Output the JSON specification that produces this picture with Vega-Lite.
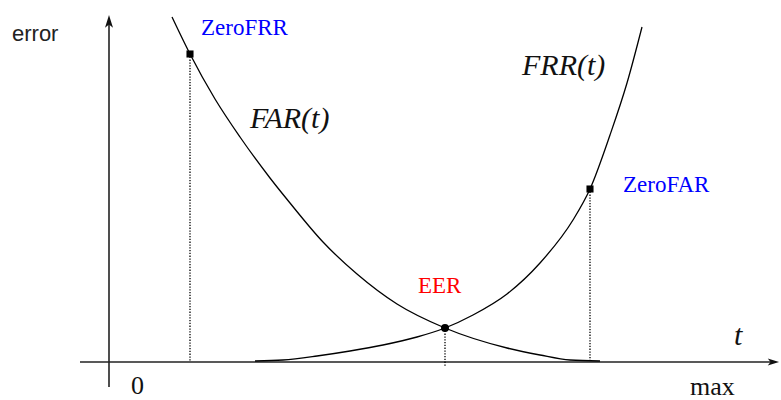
{
  "$schema": "https://vega.github.io/schema/vega-lite/v6.json",
  "width": 781,
  "height": 400,
  "autosize": {"type": "none"},
  "padding": 0,
  "background": "white",
  "config": {"view": {"stroke": null}},
  "datasets": {
    "curves": [
      {"curve": "FAR", "t": 0.63, "e": 3.45},
      {"curve": "FAR", "t": 0.81, "e": 3.08},
      {"curve": "FAR", "t": 1.06, "e": 2.63},
      {"curve": "FAR", "t": 1.31, "e": 2.25},
      {"curve": "FAR", "t": 1.61, "e": 1.84},
      {"curve": "FAR", "t": 1.81, "e": 1.59},
      {"curve": "FAR", "t": 2.14, "e": 1.20},
      {"curve": "FAR", "t": 2.48, "e": 0.88},
      {"curve": "FAR", "t": 2.88, "e": 0.58},
      {"curve": "FAR", "t": 3.36, "e": 0.34},
      {"curve": "FAR", "t": 3.98, "e": 0.14},
      {"curve": "FAR", "t": 4.31, "e": 0.07},
      {"curve": "FAR", "t": 4.61, "e": 0.02},
      {"curve": "FAR", "t": 4.91, "e": 0.01},
      {"curve": "FRR", "t": 1.46, "e": 0.01},
      {"curve": "FRR", "t": 1.74, "e": 0.02},
      {"curve": "FRR", "t": 2.08, "e": 0.06},
      {"curve": "FRR", "t": 2.41, "e": 0.11},
      {"curve": "FRR", "t": 2.74, "e": 0.17},
      {"curve": "FRR", "t": 3.08, "e": 0.25},
      {"curve": "FRR", "t": 3.36, "e": 0.34},
      {"curve": "FRR", "t": 3.64, "e": 0.47},
      {"curve": "FRR", "t": 3.98, "e": 0.68},
      {"curve": "FRR", "t": 4.31, "e": 0.99},
      {"curve": "FRR", "t": 4.64, "e": 1.42},
      {"curve": "FRR", "t": 4.81, "e": 1.73},
      {"curve": "FRR", "t": 5.01, "e": 2.27},
      {"curve": "FRR", "t": 5.18, "e": 2.79},
      {"curve": "FRR", "t": 5.33, "e": 3.35}
    ],
    "axes": [
      {"axis": "t", "t": -0.29, "t2": 6.63, "e": 0, "e2": 0},
      {"axis": "error", "t": 0, "t2": 0, "e": -0.25, "e2": 3.39}
    ],
    "arrows": [
      {"axis": "t", "t": 6.63, "e": 0},
      {"axis": "error", "t": 0, "e": 3.39}
    ],
    "guides": [
      {"name": "ZeroFRR", "t": 0.81, "e": 3.08, "e2": 0},
      {"name": "EER", "t": 3.36, "e": 0.34, "e2": -0.04},
      {"name": "ZeroFAR", "t": 4.81, "e": 1.73, "e2": 0}
    ],
    "labels": [
      {"label": "error", "t": -0.97, "e": 3.21},
      {"label": "ZeroFRR", "t": 0.92, "e": 3.27},
      {"label": "ZeroFAR", "t": 5.14, "e": 1.70},
      {"label": "EER", "t": 3.09, "e": 0.69},
      {"label": "FAR(t)", "t": 1.41, "e": 2.34},
      {"label": "FRR(t)", "t": 4.13, "e": 2.87},
      {"label": "t", "t": 6.25, "e": 0.17},
      {"label": "max", "t": 5.81, "e": -0.33},
      {"label": "0", "t": 0.22, "e": -0.32}
    ]
  },
  "encoding": {
    "x": {"field": "t", "type": "quantitative", "scale": {"domain": [-1.09, 6.72], "nice": false, "zero": false}, "axis": null},
    "y": {"field": "e", "type": "quantitative", "scale": {"domain": [-0.38, 3.62], "nice": false, "zero": false}, "axis": null}
  },
  "layer": [
    {
      "data": {"name": "axes"},
      "mark": {"type": "rule", "color": "#222222", "strokeWidth": 1.6},
      "encoding": {"x2": {"field": "t2"}, "y2": {"field": "e2"}}
    },
    {
      "data": {"name": "arrows"},
      "transform": [{"filter": "datum.axis === 'error'"}],
      "mark": {"type": "point", "shape": "M0,-1L0.5,0.6L0,0.2L-0.5,0.6Z", "size": 256, "filled": true, "color": "#111111", "opacity": 1}
    },
    {
      "data": {"name": "arrows"},
      "transform": [{"filter": "datum.axis === 't'"}],
      "mark": {"type": "point", "shape": "M1,0L-0.6,0.5L-0.2,0L-0.6,-0.5Z", "size": 200, "filled": true, "color": "#111111", "opacity": 1}
    },
    {
      "data": {"name": "guides"},
      "mark": {"type": "rule", "color": "#000000", "strokeWidth": 1.3, "strokeDash": [1.3, 1.5]},
      "encoding": {"y2": {"field": "e2"}}
    },
    {
      "data": {"name": "curves"},
      "mark": {"type": "line", "color": "#000000", "strokeWidth": 1.3, "interpolate": "monotone"},
      "encoding": {"detail": {"field": "curve"}}
    },
    {
      "data": {"name": "guides"},
      "transform": [{"filter": "datum.name !== 'EER'"}],
      "mark": {"type": "point", "shape": "square", "size": 50, "filled": true, "color": "#000000", "opacity": 1}
    },
    {
      "data": {"name": "guides"},
      "transform": [{"filter": "datum.name === 'EER'"}],
      "mark": {"type": "point", "shape": "circle", "size": 65, "filled": true, "color": "#000000", "opacity": 1}
    },
    {
      "data": {"name": "labels"},
      "transform": [{"filter": "datum.label === 'error'"}],
      "mark": {"type": "text", "align": "left", "baseline": "alphabetic", "font": "Liberation Sans", "fontSize": 22, "color": "#222222"},
      "encoding": {"text": {"field": "label"}}
    },
    {
      "data": {"name": "labels"},
      "transform": [{"filter": "datum.label === 'ZeroFRR' || datum.label === 'ZeroFAR'"}],
      "mark": {"type": "text", "align": "left", "baseline": "alphabetic", "font": "Liberation Serif", "fontSize": 23, "color": "#0000ff"},
      "encoding": {"text": {"field": "label"}}
    },
    {
      "data": {"name": "labels"},
      "transform": [{"filter": "datum.label === 'EER'"}],
      "mark": {"type": "text", "align": "left", "baseline": "alphabetic", "font": "Liberation Serif", "fontSize": 23, "color": "#ff0000"},
      "encoding": {"text": {"field": "label"}}
    },
    {
      "data": {"name": "labels"},
      "transform": [{"filter": "datum.label === 'FAR(t)' || datum.label === 'FRR(t)' || datum.label === 't'"}],
      "mark": {"type": "text", "align": "left", "baseline": "alphabetic", "font": "Liberation Serif", "fontStyle": "italic", "fontSize": 30, "color": "#111111"},
      "encoding": {"text": {"field": "label"}}
    },
    {
      "data": {"name": "labels"},
      "transform": [{"filter": "datum.label === 'max' || datum.label === '0'"}],
      "mark": {"type": "text", "align": "left", "baseline": "alphabetic", "font": "Liberation Serif", "fontSize": 26, "color": "#111111"},
      "encoding": {"text": {"field": "label"}}
    }
  ]
}
